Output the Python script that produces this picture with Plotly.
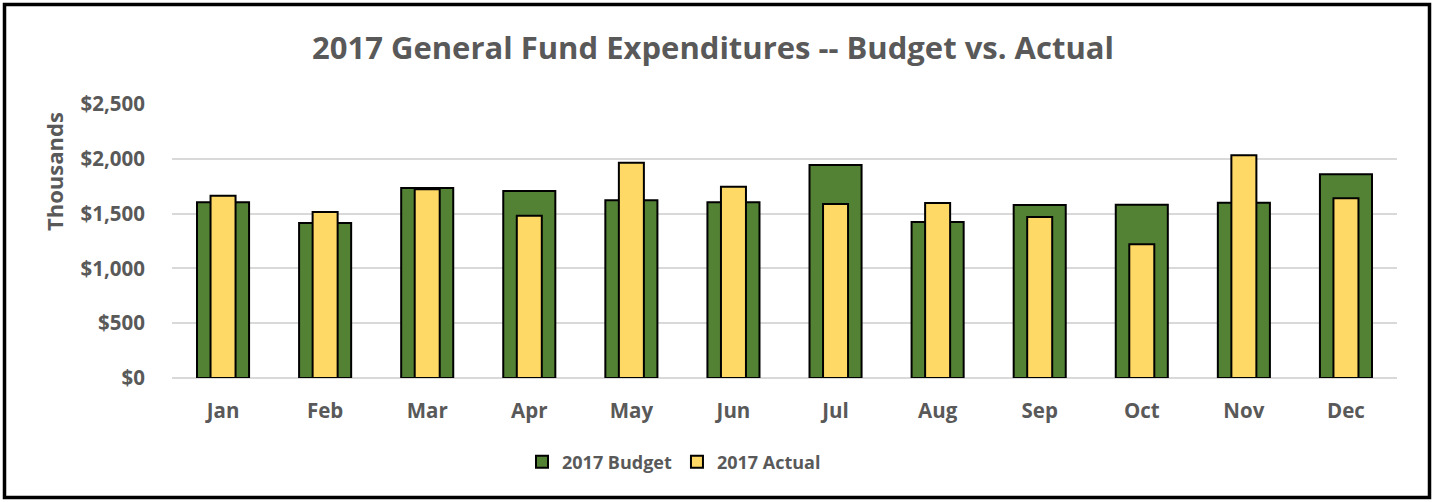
import plotly.graph_objects as go

# Monthly General Fund expenditures, in thousands of dollars
months = ["Jan", "Feb", "Mar", "Apr", "May", "Jun", "Jul", "Aug", "Sep", "Oct", "Nov", "Dec"]
budget_2017 = [1603, 1414, 1734, 1706, 1621, 1603, 1943, 1423, 1578, 1581, 1600, 1858]
actual_2017 = [1663, 1515, 1722, 1481, 1964, 1746, 1588, 1597, 1469, 1220, 2032, 1640]
y_ticks = [0, 500, 1000, 1500, 2000, 2500]
y_tick_text = ["$0", "$500", "$1,000", "$1,500", "$2,000", "$2,500"]

W, H = 1434, 502
ML, MR, MT, MB = 172, 37, 104, 124
FONT = "'Open Sans', Lato, sans-serif"
GRAY = "#595959"

fig = go.Figure()
fig.add_trace(go.Bar(
    name="<b>2017 Budget</b>", x=months, y=budget_2017, width=0.51,
    marker=dict(color="#548235", line=dict(color="#000000", width=2)),
))
fig.add_trace(go.Bar(
    name="<b>2017 Actual</b>", x=months, y=actual_2017, width=0.245,
    marker=dict(color="#FFD966", line=dict(color="#000000", width=2)),
))

# helpers converting pixel positions to paper coordinates
pw, ph = W - ML - MR, H - MT - MB
def px_x(p):
    return (p - ML) / pw
def px_y(p):
    return (H - MB - p) / ph

# outer frame around the whole chart
fig.add_shape(type="rect", xref="paper", yref="paper",
              x0=px_x(4.5), x1=px_x(1429.5), y0=px_y(4.5), y1=px_y(497.5),
              line=dict(color="#000000", width=3.5), layer="above")

# y-axis title
fig.add_annotation(text="<b>Thousands</b>", xref="paper", yref="paper",
                   x=px_x(54), y=px_y(172), xanchor="center", yanchor="middle",
                   textangle=-90, showarrow=False,
                   font=dict(size=22, color=GRAY, family=FONT))

fig.update_layout(
    width=W, height=H,
    margin=dict(l=ML, r=MR, t=MT, b=MB),
    paper_bgcolor="white", plot_bgcolor="white",
    barmode="overlay",
    font=dict(family=FONT, color=GRAY),
    title=dict(text="<b>2017 General Fund Expenditures -- Budget vs. Actual</b>",
               x=713 / W, xref="container", xanchor="center",
               y=1 - 48 / H, yref="container", yanchor="middle",
               font=dict(size=31, color=GRAY, family=FONT)),
    legend=dict(orientation="h", x=674 / W, xanchor="center", xref="container",
                y=1 - 462 / H, yref="container", yanchor="middle",
                font=dict(size=18, color=GRAY, family=FONT),
                itemwidth=30, traceorder="normal"),
    showlegend=True,
)
fig.update_xaxes(
    tickvals=months, ticktext=[f"<b>{m}</b>" for m in months],
    showgrid=False, showline=False, ticks="",
    tickfont=dict(size=20.5, color=GRAY, family=FONT),
    ticklabelstandoff=18,
)
fig.update_yaxes(
    range=[0, 2500], tickvals=y_ticks, ticktext=[f"<b>{t}</b>" for t in y_tick_text],
    showgrid=True, gridcolor="#D9D9D9", gridwidth=1.5,
    zeroline=True, zerolinecolor="#D9D9D9", zerolinewidth=1.5,
    showline=False, ticks="",
    tickfont=dict(size=20.5, color=GRAY, family=FONT),
    ticklabelstandoff=26,
)

fig.write_html("out.html")
